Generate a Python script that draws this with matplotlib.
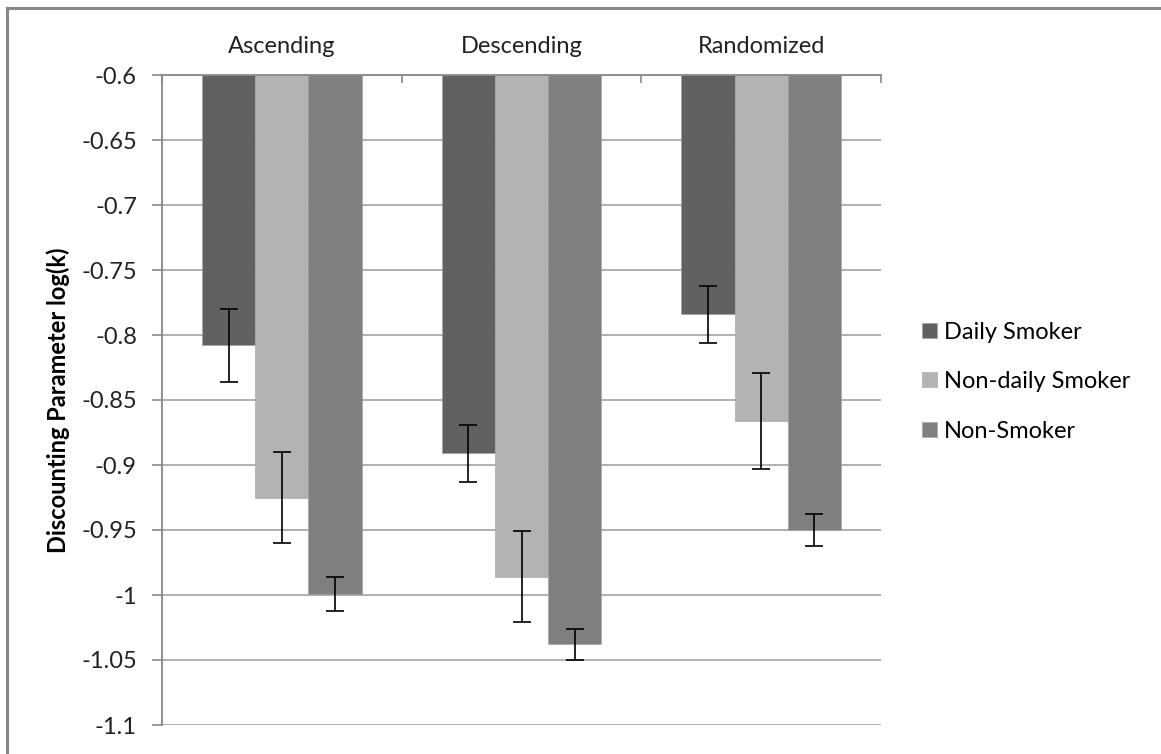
import matplotlib.pyplot as plt
from matplotlib.lines import Line2D
import numpy as np

plt.rcParams['font.family'] = ['Lato', 'DejaVu Sans']

conditions = ["Ascending", "Descending", "Randomized"]
groups = ["Daily Smoker", "Non-daily Smoker", "Non-Smoker"]
daily = [-0.808, -0.891, -0.784]
nondaily = [-0.925, -0.986, -0.866]
nonsmoker = [-0.999, -1.038, -0.950]
daily_err = [0.028, 0.022, 0.022]
nondaily_err = [0.035, 0.035, 0.037]
nonsmoker_err = [0.013, 0.012, 0.012]
yticks = [-0.6, -0.65, -0.7, -0.75, -0.8, -0.85, -0.9, -0.95, -1, -1.05, -1.1]

colors = ["#616161", "#b3b3b3", "#808080"]
top = -0.6
fs = 17

fig = plt.figure(figsize=(11.61, 7.54), dpi=100)
ax = fig.add_axes([162/1161, 29/754, 719/1161, 650/754])

x = np.arange(len(conditions))
w = 1 / 4.5
series = [(daily, daily_err), (nondaily, nondaily_err), (nonsmoker, nonsmoker_err)]
for i, (vals, errs) in enumerate(series):
    pos = x + (i - 1) * w
    vals = np.array(vals)
    ax.bar(pos, vals - top, bottom=top, width=w, color=colors[i],
           edgecolor="#a0a0a0", linewidth=0.4, label=groups[i], zorder=2)
    ax.errorbar(pos, vals, yerr=errs, fmt="none", ecolor="black",
                elinewidth=1.2, capsize=6.5, capthick=1.2, zorder=3)

ax.set_xlim(-0.5, 2.5)
ax.set_ylim(-1.1, -0.6)
ax.set_yticks(yticks)
ax.set_yticklabels([f"{t:g}" for t in yticks], fontsize=fs, color="#222222")
ax.grid(axis="y", color="#a9a9a9", linewidth=1.3, zorder=0)
ax.set_axisbelow(True)

ax.xaxis.tick_top()
ax.set_xticks(x)
ax.set_xticklabels(conditions, fontsize=fs, color="#222222")
ax.set_xticks([-0.5, 0.5, 1.5, 2.5], minor=True)
ax.tick_params(axis="x", which="major", length=0, pad=13)
ax.tick_params(axis="x", which="minor", direction="in", length=6,
               color="#888888", width=1.2)
ax.tick_params(axis="y", length=7, width=1.2, color="#888888", pad=11)

for s in ["right", "bottom"]:
    ax.spines[s].set_visible(False)
for s in ["top", "left"]:
    ax.spines[s].set_color("#888888")
    ax.spines[s].set_linewidth(1.3)

ax.set_ylabel("Discounting Parameter log(k)", fontsize=fs, fontweight="bold",
              labelpad=8)

ax.legend(loc="center left", bbox_to_anchor=(1.028, 0.528), frameon=False,
          fontsize=fs, handlelength=0.6, handleheight=0.6, handletextpad=0.3,
          labelspacing=1.2)

# chart frame (only top and left edges visible in the crop)
fig.add_artist(Line2D([7/1161, 1], [1 - 8/754, 1 - 8/754], color="#888888",
                      linewidth=2.2, transform=fig.transFigure))
fig.add_artist(Line2D([7/1161, 7/1161], [0, 1 - 8/754], color="#888888",
                      linewidth=2.2, transform=fig.transFigure))

fig.savefig("out.png", dpi=100)
